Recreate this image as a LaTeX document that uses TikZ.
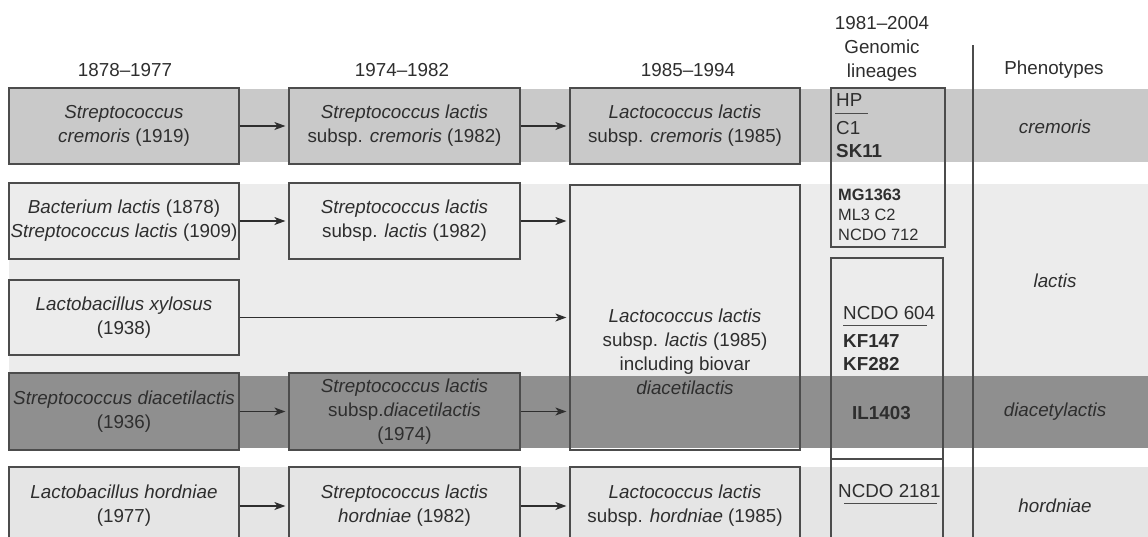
\documentclass[tikz,border=0pt]{standalone}
\usepackage{fontspec}
\setmainfont{Liberation Sans}
\usetikzlibrary{arrows.meta}
\definecolor{bandA}{gray}{0.79}
\definecolor{bandB}{gray}{0.925}
\definecolor{bandC}{gray}{0.56}
\definecolor{bandD}{gray}{0.9}
\definecolor{ink}{gray}{0.18}
\definecolor{edge}{gray}{0.3}
\newcommand\mfs{\fontsize{18.8}{24}\selectfont}
\newcommand\sfs{\fontsize{16.4}{20}\selectfont}
\begin{document}
\begin{tikzpicture}[x=1pt,y=-1pt,
  box/.style={draw=edge, line width=1.2pt, minimum width=230pt, inner sep=0pt, align=center, font=\mfs, text=ink},
  gbox/.style={draw=edge, line width=1.2pt},
  hdr/.style={font=\mfs, text=ink, align=center, inner sep=0pt},
  gtxt/.style={font=\mfs, text=ink, anchor=base west, inner sep=0pt},
  gsml/.style={font=\sfs, text=ink, anchor=base west, inner sep=0pt},
  phen/.style={font=\mfs\itshape, text=ink, inner sep=0pt},
  arr/.style={-{Stealth[length=11pt,width=8pt,inset=3pt]}, line width=1.2pt, draw=ink, shorten >=3pt},
  uline/.style={draw=edge, line width=1pt}]
\useasboundingbox (0,0) rectangle (1148,536);
\clip (0,0) rectangle (1148,536);
\fill[white] (0,0) rectangle (1148,536);
% bands
\fill[bandA] (9,89) rectangle (1148,162);
\fill[bandB] (9,184) rectangle (1148,376);
\fill[bandC] (9,376) rectangle (1148,448);
\fill[bandD] (9,467) rectangle (1148,540);
% headers
\node[hdr] (h1) at (125,70) {1878–1977};
\node[hdr] (h2) at (402,70) {1974–1982};
\node[hdr] (h3) at (688,70) {1985–1994};
\node[hdr, anchor=base] (h4a) at (882,29) {1981–2004};
\node[hdr, anchor=base] (h4b) at (882,53) {Genomic};
\node[hdr, anchor=base] (h4c) at (882,77) {lineages};
\node[hdr] (h5) at (1054,70) {Phenotypes};
% column 1
\node[box, fill=bandA, minimum height=76pt] (a1) at (124,126) {\textit{Streptococcus}\\\textit{cremoris} (1919)};
\node[box, fill=bandB, minimum height=76pt] (b1) at (124,221) {\textit{Bacterium lactis} (1878)\\\textit{Streptococcus lactis} (1909)};
\node[box, fill=bandB, minimum height=75pt] (c1) at (124,317.5) {\textit{Lactobacillus xylosus}\\(1938)};
\node[box, fill=bandC, minimum height=77pt] (d1) at (124,411.5) {\textit{Streptococcus diacetilactis}\\(1936)};
\node[box, fill=bandD, minimum height=78pt] (e1) at (124,506) {\textit{Lactobacillus hordniae}\\(1977)};
% column 2
\node[box, fill=bandA, minimum height=76pt, minimum width=231pt] (a2) at (404.5,126) {\textit{Streptococcus lactis}\\subsp. \textit{cremoris} (1982)};
\node[box, fill=bandB, minimum height=76pt, minimum width=231pt] (b2) at (404.5,221) {\textit{Streptococcus lactis}\\subsp. \textit{lactis} (1982)};
\node[box, fill=bandC, minimum height=77pt, minimum width=231pt] (d2) at (404.5,411.5) {\textit{Streptococcus lactis}\\subsp.\textit{diacetilactis}\\(1974)};
\node[box, fill=bandD, minimum height=78pt, minimum width=231pt] (e2) at (404.5,506) {\textit{Streptococcus lactis}\\\textit{hordniae} (1982)};
% column 3
\node[box, fill=bandA, minimum height=76pt] (a3) at (685,126) {\textit{Lactococcus lactis}\\subsp. \textit{cremoris} (1985)};
\node[box, minimum height=265pt] (b3) at (685,317.5) {};
\node[hdr] (b3t) at (685,352) {\textit{Lactococcus lactis}\\subsp. \textit{lactis} (1985)\\including biovar\\\textit{diacetilactis}};
\node[box, fill=bandD, minimum height=78pt] (e3) at (685,506) {\textit{Lactococcus lactis}\\subsp. \textit{hordniae} (1985)};
% arrows
\draw[arr] (a1.east) -- (a2.west);
\draw[arr] (b1.east) -- (b2.west);
\draw[arr] (c1.east) -- (b3.west);
\draw[arr] (d1.east) -- (d2.west);
\draw[arr] (e1.east) -- (e2.west);
\draw[arr] (a2.east) -- (a3.west);
\draw[arr] (b2.east) -- (b2.east -| b3.west);
\draw[arr] (d2.east) -- (d2.east -| b3.west);
\draw[arr] (e2.east) -- (e3.west);
% genomic boxes
\draw[gbox] (831,88) rectangle (945,247);
\draw[gbox] (831,258) rectangle (943,459);
\draw[gbox] (831,459) rectangle (943,545);
% genomic texts
\node[gtxt] (hp) at (836,106) {HP};
\draw[uline] (835,113) -- (868,113);
\node[gtxt] (gc1) at (836,134.5) {C1};
\node[gtxt] (sk11) at (836,157) {\bfseries SK11};
\node[gsml] (mg) at (838,200) {\bfseries MG1363};
\node[gsml] (ml3) at (838,220) {ML3 C2};
\node[gsml] (n712) at (838,240) {NCDO 712};
\node[gtxt] (n604) at (843,319.5) {NCDO 604};
\draw[uline] (843,325) -- (927,325);
\node[gtxt] (kf147) at (843,347.5) {\bfseries KF147};
\node[gtxt] (kf282) at (843,370) {\bfseries KF282};
\node[gtxt] (il) at (852,419) {\bfseries IL1403};
\node[gtxt] (n2181) at (838,497.5) {NCDO 2181};
\draw[uline] (844,503) -- (937,503);
% divider
\draw[draw=edge, line width=1.2pt] (973,45) -- (973,540);
% phenotypes
\node[phen] (p1) at (1055,127) {cremoris};
\node[phen] (p2) at (1055,281) {lactis};
\node[phen] (p3) at (1055,412) {diacetylactis};
\node[phen] (p4) at (1055,506) {hordniae};
\end{tikzpicture}
\end{document}
